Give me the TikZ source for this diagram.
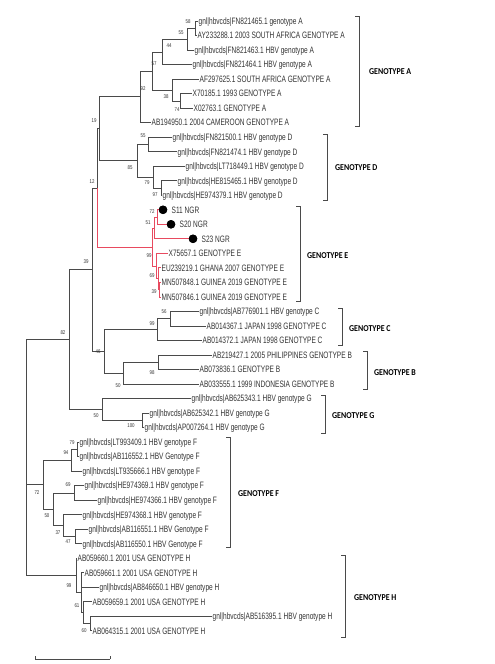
\documentclass[tikz,border=0pt]{standalone}
\usepackage{fontspec}
\setmainfont{Liberation Sans}[FakeStretch=0.705]
\newfontfamily\labfont{Carlito}[FakeStretch=0.88]
\newfontfamily\bsfont{Liberation Sans}[FakeStretch=0.8]
\definecolor{treec}{HTML}{4A4A4A}
\definecolor{leafc}{HTML}{333333}
\definecolor{redc}{RGB}{232,74,95}
\tikzset{
  br/.style={draw=treec, line width=0.7pt},
  rbr/.style={draw=redc, line width=0.8pt},
  leaf/.style={anchor=west, inner sep=0.5pt, text height=6.7pt, text depth=0pt, text=leafc, font=\fontsize{9.3}{10}\selectfont},
  bs/.style={inner sep=0pt, text=leafc, font=\bsfont\fontsize{5.5}{6}\selectfont},
  gt/.style={anchor=west, inner sep=0pt, text=black, font=\labfont\bfseries\fontsize{9}{10}\selectfont},
  brk/.style={draw=treec, line width=0.7pt},
  dotn/.style={circle, fill=black, inner sep=0pt, minimum size=8.5pt}
}
\begin{document}
\begin{tikzpicture}[x=1pt,y=-1pt]
\useasboundingbox (0,0) rectangle (495,664);
% ---------- leaves ----------
\node[leaf] (a1) at (198,21.0) {gnl|hbvcds|FN821465.1 genotype A};
\node[leaf] (a2) at (197,35.5) {AY233288.1 2003 SOUTH AFRICA GENOTYPE A};
\node[leaf] (a3) at (194,50.0) {gnl|hbvcds|FN821463.1 HBV genotype A};
\node[leaf] (a4) at (192,64.6) {gnl|hbvcds|FN821464.1 HBV genotype A};
\node[leaf] (a5) at (199,79.1) {AF297625.1 SOUTH AFRICA GENOTYPE A};
\node[leaf] (a6) at (192,93.6) {X70185.1 1993 GENOTYPE A};
\node[leaf] (a7) at (193,108.1) {X02763.1 GENOTYPE A};
\node[leaf] (a8) at (151,122.6) {AB194950.1 2004 CAMEROON GENOTYPE A};
\node[leaf] (d1) at (172,137.2) {gnl|hbvcds|FN821500.1 HBV genotype D};
\node[leaf] (d2) at (177,151.7) {gnl|hbvcds|FN821474.1 HBV genotype D};
\node[leaf] (d3) at (185,166.2) {gnl|hbvcds|LT718449.1 HBV genotype D};
\node[leaf] (d4) at (177,180.7) {gnl|hbvcds|HE815465.1 HBV genotype D};
\node[leaf] (d5) at (162,195.2) {gnl|hbvcds|HE974379.1 HBV genotype D};
\node[dotn] (e1d) at (163,209.8) {};
\node[leaf] (e1) at (171,209.8) {S11 NGR};
\node[dotn] (e2d) at (171,224.3) {};
\node[leaf] (e2) at (179,224.3) {S20 NGR};
\node[dotn] (e3d) at (193,238.8) {};
\node[leaf] (e3) at (201,238.8) {S23 NGR};
\node[leaf] (e4) at (168,253.3) {X75657.1 GENOTYPE E};
\node[leaf] (e5) at (161,267.8) {EU239219.1 GHANA 2007 GENOTYPE E};
\node[leaf] (e6) at (161,282.4) {MN507848.1 GUINEA 2019 GENOTYPE E};
\node[leaf] (e7) at (161,296.9) {MN507846.1 GUINEA 2019 GENOTYPE E};
\node[leaf] (c1) at (199,311.4) {gnl|hbvcds|AB776901.1 HBV genotype C};
\node[leaf] (c2) at (206,325.9) {AB014367.1 JAPAN 1998 GENOTYPE C};
\node[leaf] (c3) at (202,340.4) {AB014372.1 JAPAN 1998 GENOTYPE C};
\node[leaf] (b1) at (212,355.0) {AB219427.1 2005 PHILIPPINES GENOTYPE B};
\node[leaf] (b2) at (199,369.5) {AB073836.1 GENOTYPE B};
\node[leaf] (b3) at (199,384.0) {AB033555.1 1999 INDONESIA GENOTYPE B};
\node[leaf] (g1) at (191,398.5) {gnl|hbvcds|AB625343.1 HBV genotype G};
\node[leaf] (g2) at (149,413.0) {gnl|hbvcds|AB625342.1 HBV genotype G};
\node[leaf] (g3) at (144,427.6) {gnl|hbvcds|AP007264.1 HBV genotype G};
\node[leaf] (f1) at (79,442.1) {gnl|hbvcds|LT993409.1 HBV genotype F};
\node[leaf] (f2) at (79,456.6) {gnl|hbvcds|AB116552.1 HBV Genotype F};
\node[leaf] (f3) at (82,471.1) {gnl|hbvcds|LT935666.1 HBV genotype F};
\node[leaf] (f4) at (84,485.6) {gnl|hbvcds|HE974369.1 HBV genotype F};
\node[leaf] (f5) at (97,500.2) {gnl|hbvcds|HE974366.1 HBV genotype F};
\node[leaf] (f6) at (82,514.7) {gnl|hbvcds|HE974368.1 HBV genotype F};
\node[leaf] (f7) at (88,529.2) {gnl|hbvcds|AB116551.1 HBV Genotype F};
\node[leaf] (f8) at (82,543.7) {gnl|hbvcds|AB116550.1 HBV Genotype F};
\node[leaf] (h1) at (77,558.2) {AB059660.1 2001 USA GENOTYPE H};
\node[leaf] (h2) at (84,572.8) {AB059661.1 2001 USA GENOTYPE H};
\node[leaf] (h3) at (99,587.3) {gnl|hbvcds|AB846650.1 HBV genotype H};
\node[leaf] (h4) at (92,601.8) {AB059659.1 2001 USA GENOTYPE H};
\node[leaf] (h5) at (212,616.3) {gnl|hbvcds|AB516395.1 HBV genotype H};
\node[leaf] (h6) at (92,630.8) {AB064315.1 2001 USA GENOTYPE H};
% ---------- internal nodes ----------
\coordinate (nA58) at (195,28.25);
\coordinate (nA55) at (187,39.1);
\coordinate (nA44) at (162,51.9);
\coordinate (nA74) at (180,100.9);
\coordinate (nA38) at (172,90.0);
\coordinate (nA57) at (152,71.0);
\coordinate (nA92) at (140,96.8);
\coordinate (nD55) at (148,144.5);
\coordinate (nD97) at (161,188.0);
\coordinate (nD79) at (153,177.1);
\coordinate (nD85) at (137,160.8);
\coordinate (nA19) at (99,128.8);
\coordinate (nE72) at (157,217.0);
\coordinate (nE51) at (154,227.9);
\coordinate (nE39) at (159,289.6);
\coordinate (nE69) at (158,278.7);
\coordinate (nEx) at (156,266.0);
\coordinate (nE99) at (152,247.0);
\coordinate (nA12) at (97,187.9);
\coordinate (nC56) at (170,318.7);
\coordinate (nC99) at (157,329.6);
\coordinate (nB98) at (158,362.2);
\coordinate (nB50) at (123,373.1);
\coordinate (nB46) at (104,351.4);
\coordinate (nA39) at (92,269.7);
\coordinate (nG100) at (142,420.3);
\coordinate (nG50) at (102,409.4);
\coordinate (nA82) at (69,339.5);
\coordinate (nF79) at (77,449.4);
\coordinate (nF94) at (71,460.2);
\coordinate (nF69) at (74,492.9);
\coordinate (nF47) at (75,536.5);
\coordinate (nF37) at (63,525.6);
\coordinate (nF50) at (53,509.2);
\coordinate (nF72) at (43,484.7);
\coordinate (nH60) at (90,623.6);
\coordinate (nH61) at (83,612.7);
\coordinate (nH99) at (81,592.7);
\coordinate (nH0) at (76,575.5);
\coordinate (root) at (26,457.5);
% ---------- branches ----------
\draw[br] (nA58) |- (a1.west); \draw[br] (nA58) |- (a2.west);
\draw[br] (nA55) |- (nA58); \draw[br] (nA55) |- (a3.west);
\draw[br] (nA44) |- (nA55); \draw[br] (nA44) |- (a4.west);
\draw[br] (nA74) |- (a6.west); \draw[br] (nA74) |- (a7.west);
\draw[br] (nA38) |- (a5.west); \draw[br] (nA38) |- (nA74);
\draw[br] (nA57) |- (nA44); \draw[br] (nA57) |- (nA38);
\draw[br] (nA92) |- (nA57); \draw[br] (nA92) |- (a8.west);
\draw[br] (nD55) |- (d1.west); \draw[br] (nD55) |- (d2.west);
\draw[br] (nD97) |- (d4.west); \draw[br] (nD97) |- (d5.west);
\draw[br] (nD79) |- (d3.west); \draw[br] (nD79) |- (nD97);
\draw[br] (nD85) |- (nD55); \draw[br] (nD85) |- (nD79);
\draw[br] (nA19) |- (nA92); \draw[br] (nA19) |- (nD85);
\draw[rbr] (nE72) |- (e1d); \draw[rbr] (nE72) |- (e2d);
\draw[rbr] (nE51) |- (nE72); \draw[rbr] (nE51) |- (e3d);
\draw[rbr] (nE39) |- (e6.west); \draw[rbr] (nE39) |- (e7.west);
\draw[rbr] (nE69) |- (e5.west); \draw[rbr] (nE69) |- (nE39);
\draw[rbr] (nEx) |- (e4.west); \draw[rbr] (nEx) |- (nE69);
\draw[rbr] (nE99) |- (nE51); \draw[rbr] (nE99) |- (nEx);
\draw[br] (nA12) |- (nA19); \draw[rbr] (nA12) |- (nE99);
\draw[br] (nC56) |- (c1.west); \draw[br] (nC56) |- (c2.west);
\draw[br] (nC99) |- (nC56); \draw[br] (nC99) |- (c3.west);
\draw[br] (nB98) |- (b1.west); \draw[br] (nB98) |- (b2.west);
\draw[br] (nB50) |- (nB98); \draw[br] (nB50) |- (b3.west);
\draw[br] (nB46) |- (nC99); \draw[br] (nB46) |- (nB50);
\draw[br] (nA39) |- (nA12); \draw[br] (nA39) |- (nB46);
\draw[br] (nG100) |- (g2.west); \draw[br] (nG100) |- (g3.west);
\draw[br] (nG50) |- (g1.west); \draw[br] (nG50) |- (nG100);
\draw[br] (nA82) |- (nA39); \draw[br] (nA82) |- (nG50);
\draw[br] (nF79) |- (f1.west); \draw[br] (nF79) |- (f2.west);
\draw[br] (nF94) |- (nF79); \draw[br] (nF94) |- (f3.west);
\draw[br] (nF69) |- (f4.west); \draw[br] (nF69) |- (f5.west);
\draw[br] (nF47) |- (f7.west); \draw[br] (nF47) |- (f8.west);
\draw[br] (nF37) |- (f6.west); \draw[br] (nF37) |- (nF47);
\draw[br] (nF50) |- (nF69); \draw[br] (nF50) |- (nF37);
\draw[br] (nF72) |- (nF94); \draw[br] (nF72) |- (nF50);
\draw[br] (nH60) |- (h5.west); \draw[br] (nH60) |- (h6.west);
\draw[br] (nH61) |- (h4.west); \draw[br] (nH61) |- (nH60);
\draw[br] (nH99) |- (h2.west); \draw[br] (nH99) |- (h3.west); \draw[br] (nH99) |- (nH61);
\draw[br] (nH0) |- (h1.west); \draw[br] (nH0) |- (nH99);
\draw[br] (root) |- (nA82); \draw[br] (root) |- (nF72); \draw[br] (root) |- (nH0);
% dots on top
\node[dotn] at (e1d) {}; \node[dotn] at (e2d) {}; \node[dotn] at (e3d) {};
% ---------- bootstrap values ----------
\node[bs] (l1) at (188,22) {58};
\node[bs] (l2) at (181,33) {55};
\node[bs] (l3) at (169,46) {44};
\node[bs] (l4) at (154,64) {57};
\node[bs] (l5) at (143,89) {92};
\node[bs] (l6) at (166,97) {38};
\node[bs] (l7) at (177,110) {74};
\node[bs] (l8) at (143,136) {55};
\node[bs] (l9) at (130,168) {85};
\node[bs] (l10) at (147,183) {79};
\node[bs] (l11) at (155,195) {97};
\node[bs] (l12) at (94,121) {19};
\node[bs] (l13) at (92,182) {12};
\node[bs] (l14) at (152,212) {72};
\node[bs] (l15) at (148,223) {51};
\node[bs] (l16) at (149,256) {99};
\node[bs] (l17) at (152,276) {69};
\node[bs] (l18) at (154,292) {39};
\node[bs] (l19) at (86,262) {39};
\node[bs] (l20) at (164,312) {56};
\node[bs] (l21) at (152,324) {99};
\node[bs] (l22) at (152,373) {98};
\node[bs] (l23) at (118,386) {50};
\node[bs] (l24) at (98,352) {46};
\node[bs] (l25) at (96,416) {50};
\node[bs] (l26) at (131,426) {100};
\node[bs] (l27) at (63,333) {82};
\node[bs] (l28) at (72,443) {79};
\node[bs] (l29) at (66,453) {94};
\node[bs] (l30) at (68,485) {69};
\node[bs] (l31) at (37,493) {72};
\node[bs] (l32) at (47,516) {50};
\node[bs] (l33) at (58,533) {37};
\node[bs] (l34) at (68,542) {47};
\node[bs] (l35) at (69,586) {99};
\node[bs] (l36) at (77,606) {61};
\node[bs] (l37) at (84,631) {60};
% ---------- genotype brackets ----------
\draw[brk] (355,16) -- (359,16) -- (359,126.5) -- (355,126.5);
\node[gt] (gA) at (369,72) {GENOTYPE A};
\draw[brk] (323,134) -- (327,134) -- (327,200.7) -- (323,200.7);
\node[gt] (gD) at (335,168) {GENOTYPE D};
\draw[brk] (296,206) -- (300,206) -- (300,301) -- (296,301);
\node[gt] (gE) at (307,256) {GENOTYPE E};
\draw[brk] (338,308) -- (342,308) -- (342,345.6) -- (338,345.6);
\node[gt] (gC) at (349,329) {GENOTYPE C};
\draw[brk] (363,351.5) -- (367,351.5) -- (367,389) -- (363,389);
\node[gt] (gB) at (374,372.5) {GENOTYPE B};
\draw[brk] (321,395) -- (325,395) -- (325,433) -- (321,433);
\node[gt] (gG) at (332,416) {GENOTYPE G};
\draw[brk] (226,437) -- (230,437) -- (230,547) -- (226,547);
\node[gt] (gF) at (238,494) {GENOTYPE F};
\draw[brk] (341,555) -- (345,555) -- (345,637) -- (341,637);
\node[gt] (gH) at (354,597.5) {GENOTYPE H};
% ---------- scale bar ----------
\coordinate (s1) at (35,659);
\coordinate (s2) at (110,659);
\draw[br] (s1) -- (s2);
\draw[br] (s1) -- ++(0,-3);
\draw[br] (s2) -- ++(0,-3);
\end{tikzpicture}
\end{document}
